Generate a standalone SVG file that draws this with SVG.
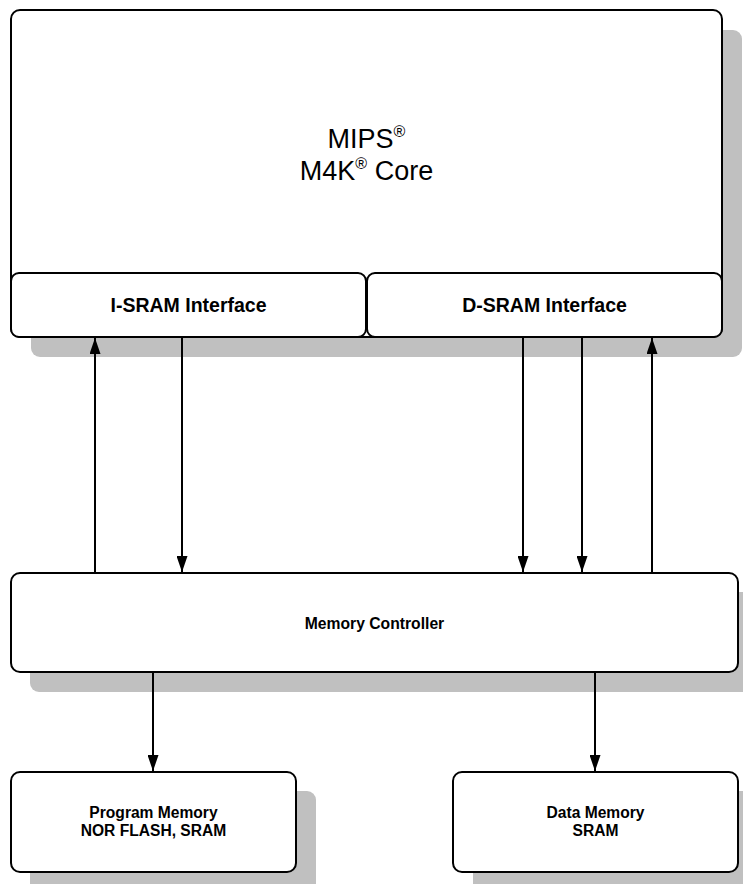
<svg xmlns="http://www.w3.org/2000/svg" width="743" height="884" viewBox="0 0 743 884">
<style>
  .shadow { fill: #c0c0c0; stroke: none; }
  .box { fill: #ffffff; stroke: #000000; stroke-width: 2; }
  .lbl { font-family: "Liberation Sans", Arial, sans-serif; font-weight: bold; fill: #000; text-anchor: middle; }
  .title { font-family: "Liberation Sans", Arial, sans-serif; font-size: 27px; fill: #000; text-anchor: middle; }
  .conn { stroke: #000; stroke-width: 2; fill: none; }
</style>
<defs>
  <marker id="arrow" viewBox="0 0 16 11" refX="16" refY="5.5" markerUnits="userSpaceOnUse" markerWidth="16" markerHeight="11" orient="auto">
    <path d="M0,0 L16,5.5 L0,11 Z" fill="#000"/>
  </marker>
</defs>
<rect width="743" height="884" fill="#ffffff"/>

<g id="core">
  <rect class="shadow" x="31" y="30" width="711" height="327" rx="9"/>
  <rect class="box" x="11" y="10" width="711" height="327" rx="9"/>
  <text class="title" x="366.5" y="148"><tspan>MIPS</tspan><tspan font-size="16" dy="-11">®</tspan></text>
  <text class="title" x="366.5" y="180"><tspan>M4K</tspan><tspan font-size="16" dy="-11">®</tspan><tspan dy="11"> Core</tspan></text>
</g>

<g id="isram">
  <rect class="box" x="11" y="273" width="355" height="64" rx="8"/>
  <text class="lbl" x="188.5" y="312" font-size="19.5">I-SRAM Interface</text>
</g>

<g id="dsram">
  <rect class="box" x="367" y="273" width="355" height="64" rx="8"/>
  <text class="lbl" x="544.5" y="312" font-size="19.5">D-SRAM Interface</text>
</g>

<g id="memctrl">
  <rect class="shadow" x="30" y="592" width="727" height="100" rx="9"/>
  <rect class="box" x="11" y="573" width="727" height="99" rx="9"/>
  <text class="lbl" x="374.5" y="628.5" font-size="15.7">Memory Controller</text>
</g>

<g id="progmem">
  <rect class="shadow" x="30" y="791" width="286" height="101" rx="9"/>
  <rect class="box" x="11" y="772" width="285" height="100" rx="9"/>
  <text class="lbl" x="153.5" y="817.5" font-size="15.6">Program Memory</text>
  <text class="lbl" x="153.5" y="836" font-size="15.6">NOR FLASH, SRAM</text>
</g>

<g id="datamem">
  <rect class="shadow" x="473" y="791" width="286" height="101" rx="9"/>
  <rect class="box" x="453" y="772" width="285" height="100" rx="9"/>
  <text class="lbl" x="595.5" y="817.5" font-size="15.6">Data Memory</text>
  <text class="lbl" x="595.5" y="836" font-size="15.6">SRAM</text>
</g>

<g id="connectors">
  <line class="conn" x1="95" y1="573" x2="95" y2="338" marker-end="url(#arrow)"/>
  <line class="conn" x1="182" y1="338" x2="182" y2="572" marker-end="url(#arrow)"/>
  <line class="conn" x1="523" y1="338" x2="523" y2="572" marker-end="url(#arrow)"/>
  <line class="conn" x1="582" y1="338" x2="582" y2="572" marker-end="url(#arrow)"/>
  <line class="conn" x1="652" y1="573" x2="652" y2="338" marker-end="url(#arrow)"/>
  <line class="conn" x1="153" y1="672" x2="153" y2="771" marker-end="url(#arrow)"/>
  <line class="conn" x1="595" y1="672" x2="595" y2="771" marker-end="url(#arrow)"/>
</g>
</svg>
